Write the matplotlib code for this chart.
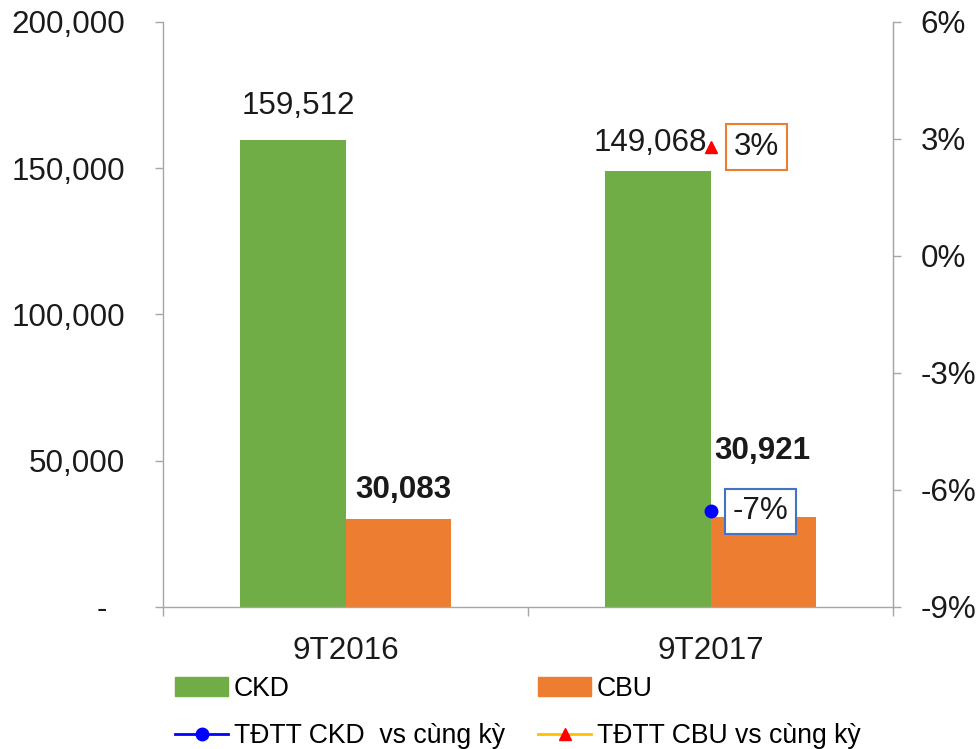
import numpy as np
import matplotlib
matplotlib.use("Agg")
import matplotlib.pyplot as plt
from matplotlib.patches import Patch
from matplotlib.lines import Line2D

plt.rcParams['font.family'] = ['Liberation Sans', 'DejaVu Sans']

categories = ["9T2016", "9T2017"]
ckd = [159512, 149068]
cbu = [30083, 30921]
growth_ckd = [np.nan, -6.55]
growth_cbu = [np.nan, 2.79]
growth_labels_ckd = ["", "-7%"]
growth_labels_cbu = ["", "3%"]
left_ticks = [0, 50000, 100000, 150000, 200000]
left_ticklabels = ["-  ", "50,000", "100,000", "150,000", "200,000"]
right_ticks = [-9, -6, -3, 0, 3, 6]
right_ticklabels = ["-9%", "-6%", "-3%", "0%", "3%", "6%"]

GREEN = "#70AD47"
ORANGE = "#ED7D31"
GRAY = "#A6A6A6"
TXT = "#1a1a1a"
FS = 22.6

fig = plt.figure(figsize=(9.79, 7.49), dpi=100)
ax = fig.add_axes([163/979, 1-607/749, (893-163)/979, (607-22)/749])
x = np.arange(len(categories))
w = 0.288
ax.bar(x - w/2, ckd, w, color=GREEN, zorder=2)
ax.bar(x + w/2, cbu, w, color=ORANGE, zorder=2)
ax.set_xlim(-0.5, 1.5)
ax.set_ylim(0, 200000)
ax.set_yticks(left_ticks)
ax.set_yticklabels(left_ticklabels)
ax.set_xticks(x)
ax.set_xticklabels(categories)
ax.set_xticks([-0.5, 0.5, 1.5], minor=True)
ax.tick_params(axis='x', which='major', length=0, pad=21, labelsize=FS, labelcolor=TXT)
ax.tick_params(axis='x', which='minor', length=6.5, width=1, color=GRAY, direction='out')
ax.tick_params(axis='y', length=5.8, width=1, color=GRAY, direction='out', labelsize=FS, labelcolor=TXT, pad=21.5)
ax.spines['top'].set_visible(False)
for s in ['left', 'bottom', 'right']:
    ax.spines[s].set_color(GRAY)
    ax.spines[s].set_linewidth(1)

# data labels
offs_ckd = [(5, 34), (-8, 28)]
for i, v in enumerate(ckd):
    ax.annotate(f"{v:,}", (x[i] - w/2, v), xytext=offs_ckd[i], textcoords='offset pixels',
                ha='center', va='center', fontsize=FS, color=TXT)
offs_cbu = [(5, 29), (-1, 66)]
for i, v in enumerate(cbu):
    ax.annotate(f"{v:,}", (x[i] + w/2, v), xytext=offs_cbu[i], textcoords='offset pixels',
                ha='center', va='center', fontsize=FS, color=TXT, fontweight='bold')

ax2 = ax.twinx()
ax2.set_ylim(-9, 6)
ax2.set_yticks(right_ticks)
ax2.set_yticklabels(right_ticklabels)
ax2.tick_params(axis='y', length=5.8, width=1, color=GRAY, direction='out', labelsize=FS, labelcolor=TXT, pad=14)
for s in ['top', 'left', 'bottom']:
    ax2.spines[s].set_visible(False)
ax2.spines['right'].set_color(GRAY)

ax2.plot(x, growth_ckd, color='blue', marker='o', markersize=9, lw=2, zorder=5)
ax2.plot(x, growth_cbu, color='#FFC000', marker='^', markerfacecolor='red', markeredgecolor='red',
         markersize=9, lw=2, zorder=5)
for i in range(len(x)):
    if growth_labels_cbu[i]:
        ax2.annotate(growth_labels_cbu[i], (x[i], growth_cbu[i]), xytext=(23, 0), textcoords='offset pixels',
                     ha='left', va='center', fontsize=FS, color=TXT,
                     bbox=dict(boxstyle='square,pad=0.25', fc='white', ec=ORANGE, lw=1.5))
    if growth_labels_ckd[i]:
        ax2.annotate(growth_labels_ckd[i], (x[i], growth_ckd[i]), xytext=(22, 0), textcoords='offset pixels',
                     ha='left', va='center', fontsize=FS, color=TXT,
                     bbox=dict(boxstyle='square,pad=0.25', fc='white', ec='#4472C4', lw=1.5))

handles = [Patch(color=GREEN),
           Line2D([], [], color='blue', marker='o', markersize=9, lw=2),
           Patch(color=ORANGE),
           Line2D([], [], color='#FFC000', marker='^', markerfacecolor='red', markeredgecolor='red',
                  markersize=9, lw=2)]
labels = ["CKD", "TĐTT CKD  vs cùng kỳ", "CBU", "TĐTT CBU vs cùng kỳ"]
fig.legend(handles, labels, ncol=2, loc='upper left', bbox_to_anchor=(175/979, 1-676/749),
           frameon=False, fontsize=19.2, handlelength=2.0, handletextpad=0.2,
           columnspacing=1.25, labelspacing=0.8, borderpad=0, borderaxespad=0, numpoints=1)

fig.savefig("out.png", dpi=100, facecolor='white')
